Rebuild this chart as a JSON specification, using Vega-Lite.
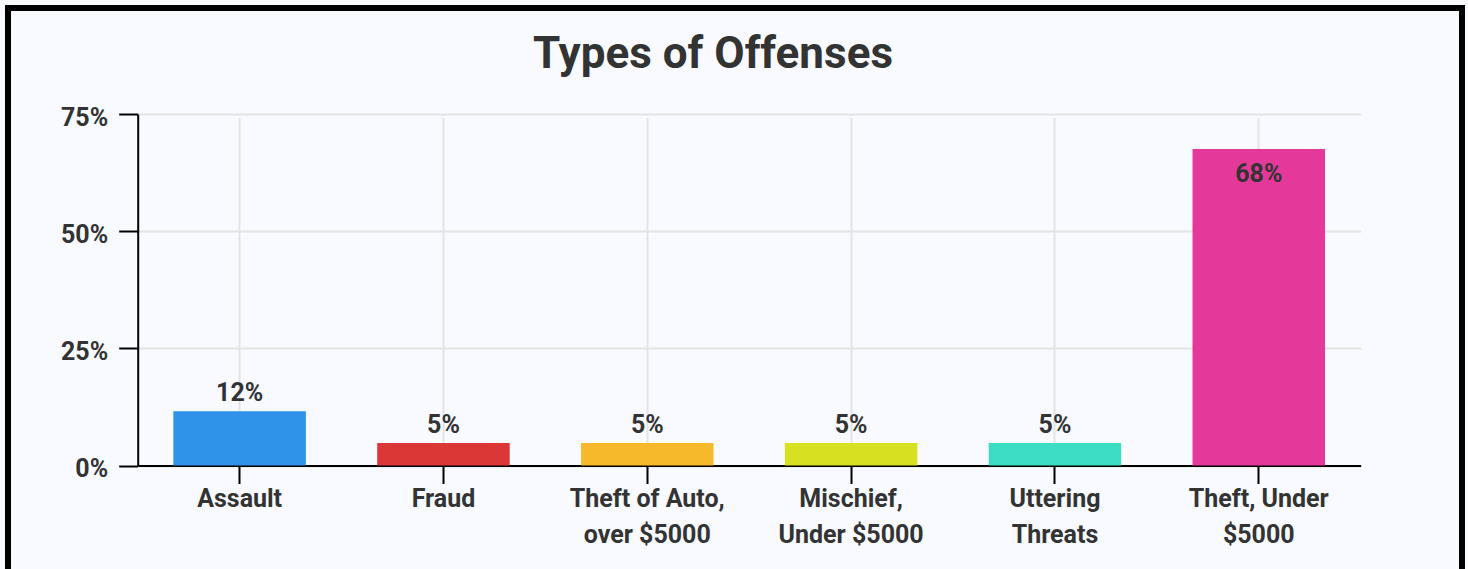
{
  "$schema": "https://vega.github.io/schema/vega-lite/v6.json",
  "autosize": "none",
  "width": 1454,
  "height": 567,
  "padding": {"left": 8, "top": 8, "right": 6, "bottom": -6},
  "background": "#f8faff",
  "title": {
    "text": "Types of Offenses",
    "font": "Roboto",
    "fontSize": 44,
    "fontWeight": "bold",
    "color": "#333333",
    "anchor": "middle",
    "baseline": "alphabetic",
    "offset": -60,
    "dy": 44,
    "dx": -22
  },
  "config": {
    "view": {"fill": "#f8faff", "stroke": "#000000", "strokeWidth": 6},
    "font": "Roboto"
  },
  "data": {
    "values": [
      {"offense": "Assault", "share": 0.116},
      {"offense": "Fraud", "share": 0.048},
      {"offense": "Theft of Auto, over $5000", "share": 0.048},
      {"offense": "Mischief, Under $5000", "share": 0.048},
      {"offense": "Uttering Threats", "share": 0.048},
      {"offense": "Theft, Under $5000", "share": 0.676}
    ]
  },
  "encoding": {
    "x": {
      "field": "offense",
      "type": "nominal",
      "sort": null,
      "scale": {"range": [129.7, 1352.7], "paddingInner": 0.35, "paddingOuter": 0.175},
      "axis": {
        "title": null,
        "orient": "bottom",
        "offset": -109.5,
        "grid": true,
        "gridColor": "#e3e3e3",
        "gridWidth": 2,
        "domainColor": "#000000",
        "domainWidth": 2,
        "tickColor": "#000000",
        "tickWidth": 2,
        "tickSize": 18,
        "labelAngle": 0,
        "labelFont": "Roboto",
        "labelFontSize": 25,
        "labelFontWeight": "bold",
        "labelColor": "#333333",
        "labelPadding": 3,
        "labelLineHeight": 36,
        "labelBaseline": "top",
        "labelLimit": 0,
        "labelExpr": "datum.label == 'Theft of Auto, over $5000' ? ['Theft of Auto,', 'over $5000'] : datum.label == 'Mischief, Under $5000' ? ['Mischief,', 'Under $5000'] : datum.label == 'Uttering Threats' ? ['Uttering', 'Threats'] : datum.label == 'Theft, Under $5000' ? ['Theft, Under', '$5000'] : datum.label"
      }
    },
    "y": {
      "field": "share",
      "type": "quantitative",
      "scale": {"domain": [0, 0.75], "range": [457.5, 106.3], "nice": false, "zero": true},
      "axis": {
        "title": null,
        "orient": "left",
        "offset": -129.7,
        "values": [0, 0.25, 0.5, 0.75],
        "format": ".0%",
        "grid": true,
        "gridColor": "#e3e3e3",
        "gridWidth": 2,
        "domainColor": "#000000",
        "domainWidth": 2,
        "tickColor": "#000000",
        "tickWidth": 2,
        "tickSize": 19,
        "labelFont": "Roboto",
        "labelFontSize": 25,
        "labelFontWeight": "bold",
        "labelColor": "#333333",
        "labelPadding": 11,
        "labelOffset": 3
      }
    }
  },
  "layer": [
    {
      "mark": {"type": "bar"},
      "encoding": {
        "color": {
          "field": "offense",
          "type": "nominal",
          "sort": null,
          "scale": {
            "domain": ["Assault", "Fraud", "Theft of Auto, over $5000", "Mischief, Under $5000", "Uttering Threats", "Theft, Under $5000"],
            "range": ["#2f93e9", "#dc3737", "#f6b92b", "#d7e021", "#3cdcc5", "#e4399a"]
          },
          "legend": null
        }
      }
    },
    {
      "transform": [{"filter": "datum.share < 0.5"}],
      "mark": {"type": "text", "baseline": "alphabetic", "dy": -10, "fontSize": 25, "fontWeight": "bold", "color": "#333333"},
      "encoding": {"text": {"field": "share", "type": "quantitative", "format": ".0%"}}
    },
    {
      "transform": [{"filter": "datum.share >= 0.5"}],
      "mark": {"type": "text", "baseline": "alphabetic", "dy": 33, "fontSize": 25, "fontWeight": "bold", "color": "#333333"},
      "encoding": {"text": {"field": "share", "type": "quantitative", "format": ".0%"}}
    }
  ]
}
